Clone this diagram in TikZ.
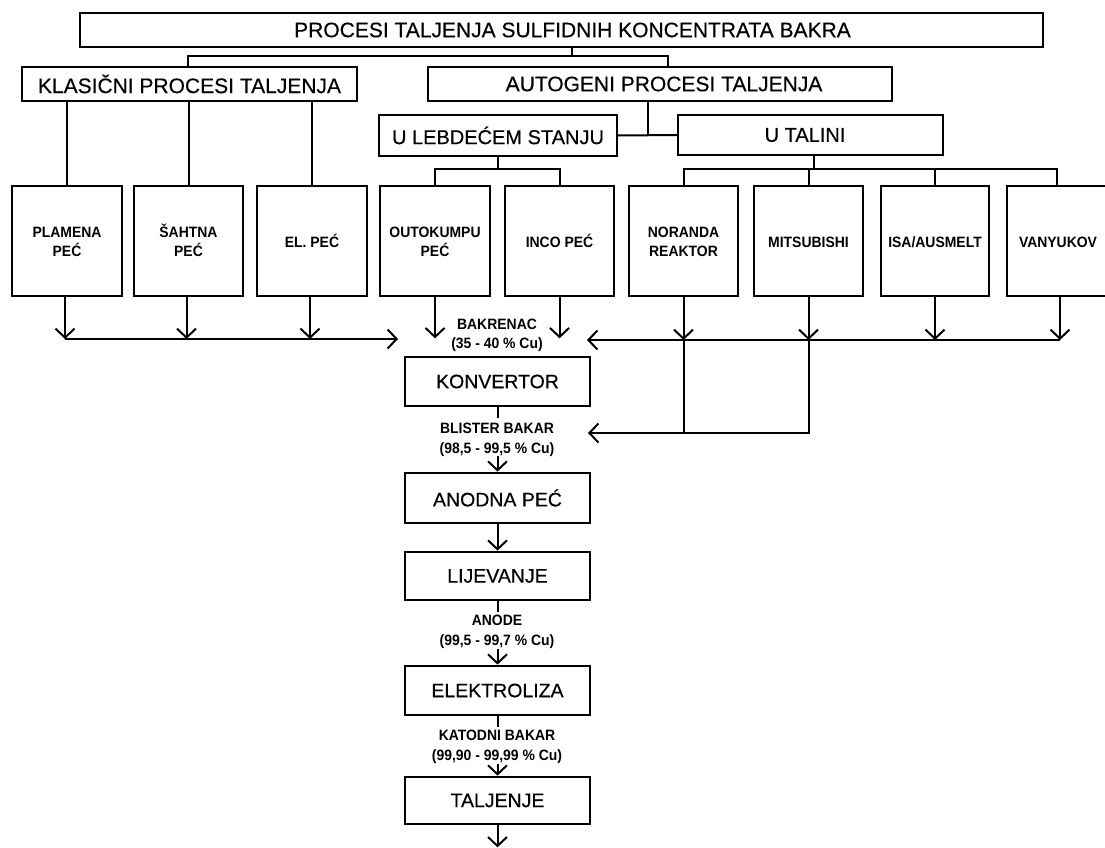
\documentclass[tikz,border=0pt]{standalone}
\usepackage{fontspec}
\usepackage{graphicx}
\setmainfont{Liberation Sans}
\newfontfamily\medfont[FakeBold=0.4]{Liberation Sans}
\usetikzlibrary{arrows.meta,calc}
\newcommand\condtext[1]{\scalebox{0.93}[1]{\begin{tabular}{@{}c@{}}#1\end{tabular}}}
\newcommand\furntext[1]{\raisebox{0pt}[\dimexpr\height+5pt\relax][\depth]{\condtext{#1}}}
\begin{document}
\begin{tikzpicture}[x=1pt,y=-1pt,
  box/.style={draw,line width=2.7pt,inner sep=0pt,align=center},
  head/.style={box,font=\medfont\fontsize{21}{25}\selectfont},
  mainbox/.style={box,minimum width=185pt,font=\medfont\fontsize{19.5}{23}\selectfont},
  furn/.style={box,minimum height=110pt,font=\fontsize{15}{19}\selectfont\bfseries},
  lab/.style={inner sep=0pt,align=center,font=\fontsize{15}{19.5}\selectfont\bfseries},
  conn/.style={line width=2pt,line cap=rect},
  arr/.style={line width=2pt,-{Straight Barb[length=9pt,width=19pt]}}]
\useasboundingbox (0,0) rectangle (1105,848);
% headers
\node[head,minimum width=963pt,minimum height=34pt] (title) at (561.5,30) {\hspace*{22pt}PROCESI TALJENJA SULFIDNIH KONCENTRATA BAKRA};
\node[head,minimum width=335pt,minimum height=34pt] (klas) at (189.5,84) {KLASIČNI PROCESI TALJENJA};
\node[head,minimum width=464pt,minimum height=34pt] (auto) at (660,84) {\hspace*{8pt}AUTOGENI PROCESI TALJENJA};
\node[head,font=\medfont\fontsize{20}{24}\selectfont,minimum width=238pt,minimum height=41pt] (lebd) at (498,135.5) {U LEBDEĆEM STANJU};
\node[head,font=\medfont\fontsize{20}{24}\selectfont,minimum width=265pt,minimum height=40pt] (tal) at (810.5,135) {U TALINI\hspace*{11pt}};
% furnaces
\node[furn,minimum width=110pt] (plam) at (67,241) {\furntext{PLAMENA\\PEĆ}};
\node[furn,minimum width=109pt] (saht) at (188.5,241) {\furntext{ŠAHTNA\\PEĆ}};
\node[furn,minimum width=110pt] (elpec) at (312,241) {\furntext{EL. PEĆ}};
\node[furn,minimum width=110pt] (outo) at (435,241) {\furntext{OUTOKUMPU\\PEĆ}};
\node[furn,minimum width=109pt] (inco) at (559.5,241) {\furntext{INCO PEĆ}};
\node[furn,minimum width=109pt] (nor) at (683.5,241) {\furntext{NORANDA\\REAKTOR}};
\node[furn,minimum width=109pt] (mit) at (808.5,241) {\furntext{MITSUBISHI}};
\node[furn,minimum width=108pt] (isa) at (935,241) {\furntext{ISA/AUSMELT}};
\node[furn,minimum width=106pt] (van) at (1060,241) {\furntext{VANYUKOV}\hspace*{4pt}};
% main chain
\node[mainbox,minimum height=49pt] (konv) at (497.5,381.5) {KONVERTOR};
\node[mainbox,minimum height=50pt] (anod) at (497.5,498) {ANODNA PEĆ};
\node[mainbox,minimum height=48pt] (lij) at (497.5,576) {LIJEVANJE};
\node[mainbox,minimum height=49pt] (elek) at (497.5,690.5) {ELEKTROLIZA};
\node[mainbox,minimum height=47pt] (talj) at (497.5,800.5) {TALJENJE};
% labels
\node[lab] (bak) at (497,335) {\condtext{BAKRENAC\\(35 - 40 \% Cu)}};
\node[lab] (blis) at (497,439.5) {\condtext{BLISTER BAKAR\\(98,5 - 99,5 \% Cu)}};
\node[lab] (anode) at (497,631.5) {\condtext{ANODE\\(99,5 - 99,7 \% Cu)}};
\node[lab] (kat) at (497,746.5) {\condtext{KATODNI BAKAR\\(99,90 - 99,99 \% Cu)}};
% tree connectors
\draw[conn] ([xshift=10.5pt]title.south) -- ++(0,8) coordinate (tj);
\draw[conn] ([xshift=-1.5pt]klas.north) |- (tj) -| ([xshift=8pt]auto.north);
\foreach \n in {plam,saht,elpec} \draw[conn] (\n.north |- klas.south) -- (\n.north);
\coordinate (aj) at ($(lebd.east)!0.5!(tal.west)$);
\draw[conn] (lebd.east) -- (tal.west);
\draw[conn] (aj |- auto.south) -- (aj);
\draw[conn] (lebd.south) -- ++(0,12) coordinate (lj);
\draw[conn] (outo.north) |- (lj) -| (inco.north);
\draw[conn] ([xshift=3.5pt]tal.south) -- ++(0,13) coordinate (tj2);
\draw[conn] (nor.north) |- (tj2) -| ([xshift=-3pt]van.north);
\draw[conn] (mit.north |- tj2) -- (mit.north);
\draw[conn] (isa.north |- tj2) -- (isa.north);
% left bus
\coordinate (ltip) at (398,339);
\foreach \n in {plam,saht,elpec} \draw[arr] ([xshift=-2pt]\n.south) -- ([xshift=-2pt]\n.south |- ltip);
\draw[arr] ([xshift=-2pt]plam.south |- ltip) -- (ltip);
\draw[arr] (outo.south) -- ++(0,41);
\draw[arr] (inco.south) -- ++(0,41);
% right bus
\coordinate (rtip) at (587,340);
\coordinate (rtip2) at (588,433);
\foreach \n in {nor,mit,isa,van} \draw[arr] (\n.south) -- (\n.south |- rtip);
\draw[arr] (van.south |- rtip) -- (rtip);
\draw[conn] (nor.south |- rtip) -- (nor.south |- rtip2);
\draw[conn] (mit.south |- rtip) -- (mit.south |- rtip2);
\draw[arr] (mit.south |- rtip2) -- (rtip2);
% main chain connectors
\draw[conn] (konv.south) -- ++(0,10);
\draw[arr] ([yshift=16pt]anod.north) -- (anod.north);
\draw[arr] (anod.south) -- (lij.north);
\draw[conn] (lij.south) -- ++(0,10);
\draw[arr] ([yshift=16pt]elek.north) -- (elek.north);
\draw[conn] (elek.south) -- ++(0,10);
\draw[arr] ([yshift=12pt]talj.north) -- (talj.north);
\draw[arr] (talj.south) -- ++(0,22);
\end{tikzpicture}
\end{document}
